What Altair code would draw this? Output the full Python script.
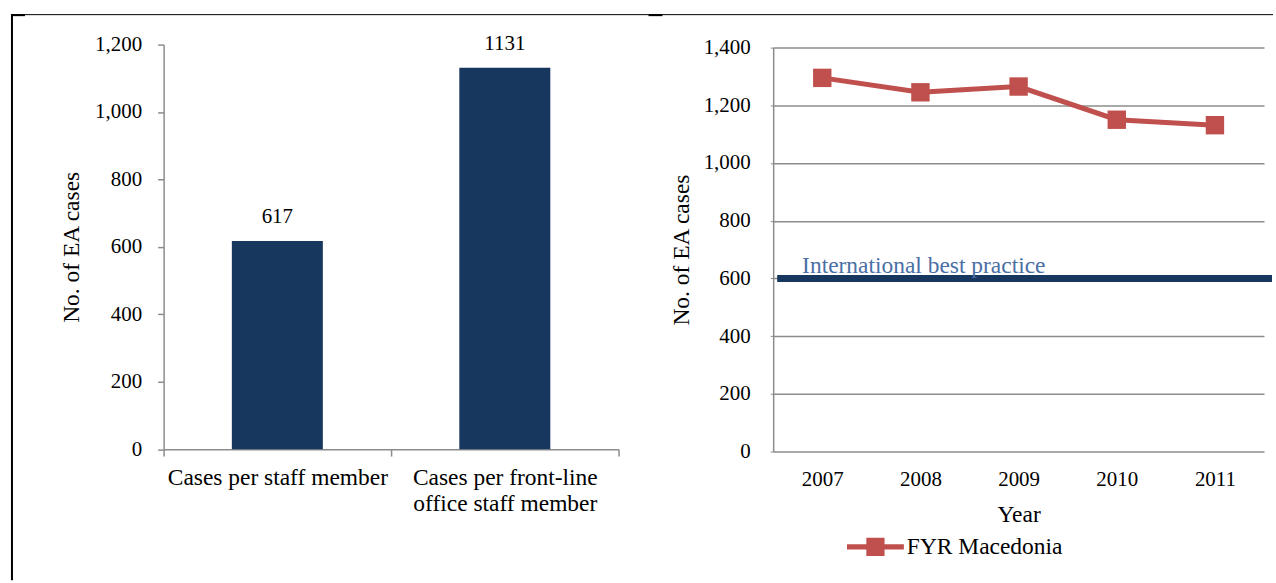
import altair as alt
import pandas as pd

# ---- data -------------------------------------------------------------
bar_label_lines = [["Cases per staff member"],
                   ["Cases per front-line", "office staff member"]]
bar_categories = [" ".join(lines) for lines in bar_label_lines]
bar_values = [617, 1131]

years = ["2007", "2008", "2009", "2010", "2011"]
macedonia_cases = [1295, 1245, 1265, 1150, 1131]
series_name = "FYR Macedonia"

best_practice_value = 600
best_practice_label = "International best practice"

y_title = "No. of EA cases"
left_ticks = list(range(0, 1201, 200))
right_ticks = list(range(0, 1401, 200))

# ---- style ------------------------------------------------------------
FONT = "Liberation Serif"
FS_NUM = 21     # numbers
FS_TXT = 23.5   # words
NAVY = "#17375E"
RED = "#C0504D"
STEEL = "#4A6FA5"
GREY = "#8C8C8C"

LEFT_W, LEFT_H = 456, 405.5
RIGHT_W, RIGHT_H = 492, 408

bars_df = pd.DataFrame({"category": bar_categories, "cases": bar_values})
line_df = pd.DataFrame({"year": years, "cases": macedonia_cases,
                        "series": [series_name] * len(years)})
ref_df = pd.DataFrame({"cases": [best_practice_value],
                       "label": [best_practice_label]})
frame_df = pd.DataFrame({"k": [0]})

# multi-line category labels
label_expr = "datum.value"
for cat, lines in zip(bar_categories, bar_label_lines):
    if len(lines) > 1:
        arr = "[" + ", ".join("'" + s + "'" for s in lines) + "]"
        label_expr = f"datum.value == '{cat}' ? {arr} : ({label_expr})"

# ---- left panel: bars -------------------------------------------------
x_bar = alt.X(
    "category:N", sort=bar_categories, title=None,
    scale=alt.Scale(paddingInner=0, paddingOuter=0),
    axis=alt.Axis(labelAngle=0, tickBand="extent", domainColor=GREY,
                  tickColor=GREY, domainWidth=1.5, tickWidth=1.5, tickSize=7,
                  labelPadding=9, labelLineHeight=27, labelLimit=0,
                  labelFontSize=FS_TXT, labelExpr=label_expr),
)
y_bar = alt.Y(
    "cases:Q", title=y_title,
    scale=alt.Scale(domain=[0, 1200], nice=False),
    axis=alt.Axis(values=left_ticks, format=",.0f", grid=False, domainColor=GREY,
                  tickColor=GREY, domainWidth=1.5, tickWidth=1.5, tickSize=6,
                  labelPadding=16, titlePadding=11),
)

bars = alt.Chart(bars_df).mark_bar(color=NAVY, width=alt.RelativeBandSize(0.4)).encode(
    x=x_bar, y=y_bar)
bar_text = alt.Chart(bars_df).mark_text(
    font=FONT, fontSize=FS_NUM, color="black", baseline="middle", dy=-24
).encode(x=alt.X("category:N", sort=bar_categories),
         y="cases:Q", text=alt.Text("cases:Q", format="d"))

# page frame lines (left rule and top rule)
frame_left = alt.Chart(frame_df).mark_rule(color="black", strokeWidth=2).encode(
    x=alt.value(-152), y=alt.value(-30.5), y2=alt.value(537))
frame_top = alt.Chart(frame_df).mark_rule(color="black", strokeWidth=1).encode(
    x=alt.value(-153), x2=alt.value(1112), y=alt.value(-30))
frame_mark1 = alt.Chart(frame_df).mark_rule(color="black", strokeWidth=2).encode(
    x=alt.value(-153), x2=alt.value(-139), y=alt.value(-29.5))
frame_mark2 = alt.Chart(frame_df).mark_rule(color="black", strokeWidth=2).encode(
    x=alt.value(486), x2=alt.value(500), y=alt.value(-29.5))

left = alt.layer(bars, bar_text, frame_left, frame_top, frame_mark1, frame_mark2
                 ).properties(width=LEFT_W, height=LEFT_H)

# ---- right panel: trend line ------------------------------------------
y_scale_right = alt.Scale(domain=[0, 1400], nice=False, range=[RIGHT_H, 3])

x_year = alt.X(
    "year:O", title="Year", sort=years,
    scale=alt.Scale(type="point", padding=0.5),
    axis=alt.Axis(labelAngle=0, domain=False, ticks=False, grid=False,
                  labelPadding=17, titlePadding=13, titleFontSize=FS_TXT),
)
y_cases = alt.Y(
    "cases:Q", title=y_title, scale=y_scale_right,
    axis=alt.Axis(values=right_ticks, format=",.0f", grid=True, gridColor=GREY,
                  gridWidth=1.5, domainColor=GREY, domainWidth=1.5,
                  tickColor=GREY, tickWidth=1, tickSize=3,
                  labelPadding=20, titlePadding=10),
)

ref_rule = alt.Chart(ref_df).mark_rule(color=NAVY, strokeWidth=7).encode(
    y=alt.Y("cases:Q", scale=y_scale_right),
    x=alt.value(4), x2=alt.value(500))
ref_text = alt.Chart(ref_df).mark_text(
    font=FONT, fontSize=FS_TXT, color=STEEL, align="left", baseline="alphabetic", dy=-5
).encode(y="cases:Q", x=alt.value(29), text="label:N")

line = alt.Chart(line_df).mark_line(color=RED, strokeWidth=5).encode(
    x=x_year, y=y_cases)

legend_symbol = "M-1,-0.09H1V0.09H-1Z M-0.32,-0.32H0.32V0.32H-0.32Z"
points = alt.Chart(line_df).mark_square(size=340, filled=True, opacity=1).encode(
    x=alt.X("year:O", sort=years),
    y="cases:Q",
    color=alt.Color(
        "series:N",
        scale=alt.Scale(domain=[series_name], range=[RED]),
        legend=alt.Legend(title=None, orient="none", legendX=685, legendY=475,
                          symbolType=legend_symbol, symbolSize=3249,
                          symbolStrokeWidth=0, symbolOpacity=1,
                          labelOffset=3, labelFontSize=FS_TXT, labelFont=FONT,
                          labelColor="black"),
    ),
)

right = alt.layer(ref_rule, ref_text, line, points).properties(
    width=RIGHT_W, height=RIGHT_H)

chart = alt.hconcat(left, right, spacing=155, bounds="flush").properties(
    padding={"left": 10, "top": 12, "right": 0, "bottom": 0},
    background="white",
).configure(font=FONT).configure_view(stroke=None).configure_axis(
    labelFont=FONT, labelFontSize=FS_NUM, labelColor="black",
    titleFont=FONT, titleFontSize=FS_TXT, titleColor="black", titleFontWeight="normal",
).configure_legend(labelFont=FONT, labelFontSize=FS_TXT)

chart.save("out.html", embed_options={"renderer": "svg", "actions": False})
